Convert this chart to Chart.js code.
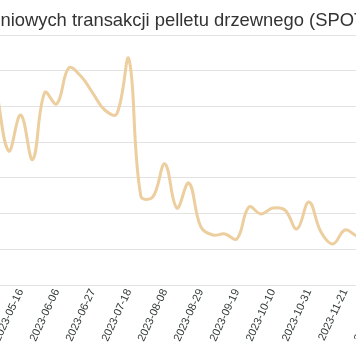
<!DOCTYPE html>
<html>
<head>
<meta charset="utf-8">
<script src="https://cdn.jsdelivr.net/npm/chart.js@4"></script>
<style>
  html, body { margin: 0; padding: 0; background: #fff; overflow: hidden; width: 356px; height: 364px; }
  #wrap { position: absolute; top: 0; }
</style>
</head>
<body>
<div id="wrap"><canvas id="c"></canvas></div>
<script>
const titleText = "Średnie ceny tygodniowych transakcji pelletu drzewnego (SPOT)";
const titleHiddenPrefix = "Średnie ceny tygod";

const dates = [
  "2023-05-02","2023-05-09","2023-05-16","2023-05-23","2023-05-30","2023-06-06",
  "2023-06-13","2023-06-20","2023-06-27","2023-07-04","2023-07-11","2023-07-18",
  "2023-07-25","2023-08-01","2023-08-08","2023-08-15","2023-08-22","2023-08-29",
  "2023-09-05","2023-09-12","2023-09-19","2023-09-26","2023-10-03","2023-10-10",
  "2023-10-17","2023-10-24","2023-10-31","2023-11-07","2023-11-14","2023-11-21",
  "2023-11-28","2023-12-05","2023-12-12"
];
const prices = [
  2081, 1750, 1952, 1703, 2078, 2014,
  2215, 2170, 2075, 1980, 1958, 2266,
  1498, 1493, 1678, 1431, 1571, 1325,
  1280, 1286, 1258, 1437, 1398, 1431,
  1420, 1314, 1465, 1297, 1230, 1308,
  1274, 1263, 1250
];
const yMin = 1000, yMax = 2400, yStep = 200;

const FONT = '"Liberation Sans", Arial, sans-serif';
const TITLE_FONT = 'normal 18.4px ' + FONT;
const L = 160;                      // hidden canvas width on the left
const plotLeftWin = -3.3, plotRightWin = 381.0;
const W = L + 420;
const H = 364;
const rightGap = W - (L + plotRightWin);

const wrap = document.getElementById('wrap');
wrap.style.left = (-L) + 'px';
wrap.style.width = W + 'px';
wrap.style.height = H + 'px';
const cv = document.getElementById('c');
cv.width = W; cv.height = H;
cv.style.width = W + 'px'; cv.style.height = H + 'px';

// Title drawn with the chart's own context so its measured and drawn positions agree
const titlePlugin = {
  id: 'croppedTitle',
  afterDraw(chart) {
    const ctx = chart.ctx;
    ctx.save();
    ctx.font = TITLE_FONT;
    ctx.fillStyle = '#333333';
    ctx.textAlign = 'left';
    ctx.textBaseline = 'alphabetic';
    const pre = ctx.measureText(titleHiddenPrefix).width;
    ctx.fillText(titleText, L + 0.4 - pre, 26);
    ctx.restore();
  }
};

new Chart(cv, {
  type: 'line',
  data: {
    labels: dates,
    datasets: [{
      data: prices,
      borderColor: '#ecce9f',
      borderWidth: 3,
      pointRadius: 0,
      tension: 0.4,
      fill: false
    }]
  },
  plugins: [titlePlugin],
  options: {
    responsive: false,
    animation: false,
    devicePixelRatio: 1,
    layout: { padding: { top: 35, left: 0, right: 0, bottom: 0 } },
    plugins: {
      legend: { display: false },
      tooltip: { enabled: false },
      title: { display: false }
    },
    scales: {
      x: {
        grid: { display: false, drawTicks: false },
        border: { display: false },
        ticks: {
          autoSkip: false,
          minRotation: 65,
          maxRotation: 65,
          padding: 2,
          color: '#313936',
          font: { family: FONT, size: 11 },
          callback: function(v, i) { return i % 3 === 2 ? dates[i] : null; }
        },
        afterFit: function(s) { s.height = 79; s.paddingLeft = 0; s.paddingRight = rightGap; }
      },
      y: {
        min: yMin, max: yMax,
        grid: { color: '#e3e3e3', lineWidth: 1, drawTicks: false },
        border: { display: false },
        ticks: { display: false, stepSize: yStep },
        afterFit: function(s) { s.width = L + plotLeftWin; }
      }
    }
  }
});
</script>
</body>
</html>
